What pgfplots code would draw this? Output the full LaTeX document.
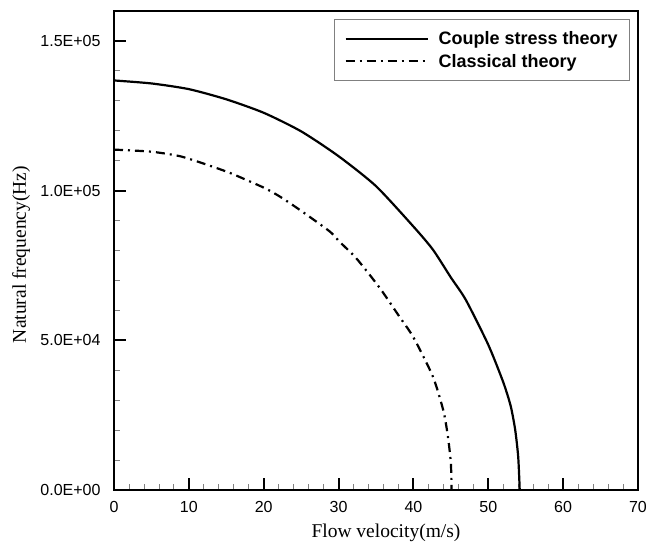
\documentclass[border=0pt]{standalone}
\usepackage{pgfplots}
\pgfplotsset{compat=1.18}
\usepackage{fontspec}
\setmainfont{Liberation Serif}
\newfontfamily\arial{Liberation Sans}

\begin{document}
\begin{tikzpicture}[x=1pt,y=1pt]
  \begin{axis}[
    name=ax,
    scale only axis,
    width=524pt, height=479pt,
    xmin=0, xmax=70,
    ymin=0, ymax=160000,
    xtick={0,10,...,70},
    minor x tick num=4,
    ytick={0,50000,100000,150000},
    yticklabels={0.0E+00,5.0E+04,1.0E+05,1.5E+05},
    minor y tick num=4,
    scaled y ticks=false,
    tick align=inside,
    xtick pos=bottom, ytick pos=left,
    major tick length=12pt,
    minor tick length=6pt,
    minor tick style={gray, line width=0.8pt},
    major tick style={black, line width=2pt},
    axis line style={line width=2.2pt},
    tick label style={font=\arial\fontsize{16}{18}\selectfont},
    /pgf/number format/assume math mode=true,
    xticklabel style={yshift=-8pt},
    yticklabel style={xshift=-10pt},
    xlabel={Flow velocity(m/s)},
    ylabel={Natural frequency(Hz)},
    every axis x label/.style={at={(axis description cs:0.5,0)}, anchor=center,
      yshift=-43pt, xshift=10pt, font=\fontsize{19.5}{22}\selectfont},
    every axis y label/.style={at={(axis description cs:0,0.5)}, rotate=90, anchor=center,
      yshift=93pt, xshift=-4pt, font=\fontsize{19.5}{22}\selectfont},
    legend style={at={(0.985,0.983)}, anchor=north east, draw=gray,
      line width=0.8pt,
      font=\arial\bfseries\fontsize{18}{21}\selectfont,
      inner xsep=10pt, inner ysep=10pt, row sep=4pt, column sep=8pt},
    legend cell align=left,
    legend image code/.code={\draw[#1] (0pt,0pt) -- (82pt,0pt);},
  ]
    \addplot[black, line width=2.2pt, smooth, tension=0.4] coordinates {
      (0,136800) (5,135800) (10,133900) (15,130500) (20,126000)
      (25,119800) (30,111500) (35,101500) (40,88000) (42.6,80300)
      (45,71000) (47,63500) (50,48500) (52,36000) (53,28000)
      (53.6,20000) (54,11000) (54.2,0)
    };
    \addlegendentry{Couple stress theory}
    \addplot[black, line width=2.2pt, smooth, tension=0.4, dash pattern=on 9pt off 5pt on 2pt off 5pt] coordinates {
      (0,113700) (5,113000) (8.8,111500) (12,109000) (15.5,105900)
      (20,101000) (22.1,98100) (24.8,93600) (28.8,86400) (30.1,83000)
      (32.4,77300) (35.5,67500) (38.1,58000) (40,51000) (42.6,37900)
      (44,26500) (44.6,18000) (45.0,9000) (45.1,0)
    };
    \addlegendentry{Classical theory}
  \end{axis}
  \pgfresetboundingbox
  \path ([shift={(-114pt,-56pt)}]ax.south west) rectangle ([shift={(10pt,11pt)}]ax.north east);
\end{tikzpicture}
\end{document}
